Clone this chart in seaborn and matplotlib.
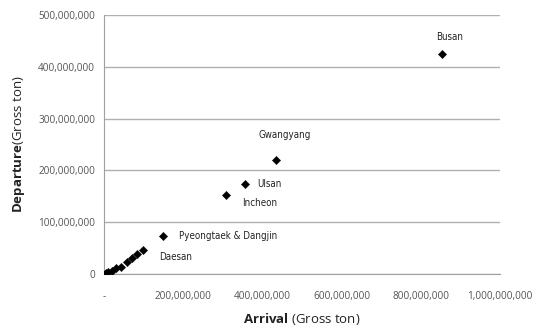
import pandas as pd
import numpy as np
import seaborn as sns
import matplotlib.pyplot as plt
from matplotlib.ticker import FuncFormatter

# Port traffic, gross ton
ports = ['Busan', 'Gwangyang', 'Ulsan', 'Incheon', 'Pyeongtaek & Dangjin', 'Daesan',
         '', '', '', '', '', '', '', '', '']
arrival = [853e6, 435e6, 357e6, 309e6, 149e6, 99e6,
           84e6, 71e6, 58e6, 43e6, 30e6, 20e6, 10e6, 5e6, 1e6]
departure = [425e6, 220e6, 174e6, 153e6, 73e6, 46e6,
             39e6, 31e6, 23e6, 14e6, 12e6, 6e6, 4e6, 2e6, 0.5e6]

# label offsets in points (dx, dy) and alignment
label_pos = {
    'Busan': (6, 12, 'center'),
    'Gwangyang': (6, 18, 'center'),
    'Ulsan': (8.5, 0, 'left'),
    'Incheon': (11.5, -6, 'left'),
    'Pyeongtaek & Dangjin': (11.5, 0, 'left'),
    'Daesan': (11, -5, 'left'),
}

df = pd.DataFrame({'Port': ports, 'Arrival': arrival, 'Departure': departure})

sns.set_style('white')
plt.rcParams['font.family'] = ['Open Sans', 'DejaVu Sans']
plt.rcParams['mathtext.fontset'] = 'custom'
plt.rcParams['mathtext.rm'] = 'Open Sans'
plt.rcParams['mathtext.bf'] = 'Open Sans:bold'

fig = plt.figure(figsize=(5.37, 3.31), dpi=100)
ax = fig.add_axes([0.194, 0.172, 0.737, 0.783])

sns.scatterplot(data=df, x='Arrival', y='Departure', marker='D', color='black',
                s=18, edgecolor='black', linewidth=0.3, ax=ax, zorder=3)

for _, r in df.iterrows():
    if r['Port'] in label_pos:
        dx, dy, ha = label_pos[r['Port']]
        ax.annotate(r['Port'], (r['Arrival'], r['Departure']), xytext=(dx, dy),
                    textcoords='offset points', ha=ha, va='center', fontsize=7,
                    family='DejaVu Sans', fontstretch='condensed', color='#222222')

ax.set_xlim(0, 1e9)
ax.set_ylim(0, 5e8)
ax.set_xticks(np.arange(0, 1.01e9, 2e8))
ax.set_yticks(np.arange(0, 5.01e8, 1e8))
ax.xaxis.set_major_formatter(FuncFormatter(lambda v, p: '-' if v == 0 else f'{v:,.0f}'))
ax.yaxis.set_major_formatter(FuncFormatter(lambda v, p: f'{v:,.0f}'))

ax.grid(axis='y', color='#b0b0b0', linewidth=1)
ax.grid(axis='x', visible=False)
ax.set_axisbelow(True)
for side in ['top', 'right']:
    ax.spines[side].set_visible(False)
for side in ['left', 'bottom']:
    ax.spines[side].set_color('#a0a0a0')
ax.tick_params(axis='both', labelsize=7.2, labelcolor='#555555', colors='#a0a0a0',
               length=3, width=0.8, direction='out')
ax.tick_params(axis='x', pad=9)

ax.set_xlabel(r'$\bf{Arrival}$ (Gross ton)', fontsize=9.5, color='#222222', labelpad=7)
ax.set_ylabel(r'$\bf{Departure}$(Gross ton)', fontsize=9.5, color='#222222', labelpad=8)

plt.savefig('out.png', dpi=100)
